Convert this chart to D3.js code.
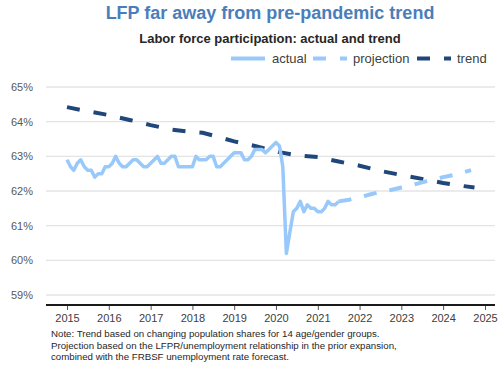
<!DOCTYPE html>
<html>
<head>
<meta charset="utf-8">
<script src="https://cdn.jsdelivr.net/npm/d3@7"></script>
<style>
  body { margin: 0; background: #fff; }
  svg { font-family: "Liberation Sans", Arial, sans-serif; }
</style>
</head>
<body>
<svg id="chart" width="500" height="365"></svg>
<script>
// monthly LFPR, Jan 2015 .. Jul 2021
var actualStart = "2015-01";
var actualValues = [
  62.9, 62.7, 62.6, 62.8, 62.9, 62.7, 62.6, 62.6, 62.4, 62.5, 62.5, 62.7,
  62.7, 62.8, 63.0, 62.8, 62.7, 62.7, 62.8, 62.9, 62.9, 62.8, 62.7, 62.7,
  62.8, 62.9, 63.0, 62.8, 62.8, 62.9, 63.0, 63.0, 62.7, 62.7, 62.7, 62.7,
  62.7, 63.0, 62.9, 62.9, 62.9, 63.0, 63.0, 62.7, 62.7, 62.8, 62.9, 63.0,
  63.1, 63.1, 63.1, 62.9, 62.9, 63.0, 63.2, 63.2, 63.2, 63.1, 63.2, 63.3,
  63.4, 63.3, 62.7, 60.2, 60.8, 61.4, 61.5, 61.7, 61.4, 61.6, 61.5, 61.5,
  61.4, 61.4, 61.5, 61.7, 61.6, 61.6, 61.7
];
var projDates = ["2021-07", "2021-10", "2022-01", "2022-04", "2022-07", "2022-10", "2023-01",
  "2023-04", "2023-07", "2023-10", "2024-01", "2024-04", "2024-07", "2024-09"];
var projValues = [61.7, 61.75, 61.82, 61.9, 61.97, 62.03, 62.1, 62.17, 62.25, 62.32, 62.4, 62.46, 62.54, 62.6];
var trendDates = ["2015-01", "2015-07", "2016-01", "2016-07", "2017-01", "2017-07", "2018-01", "2018-04",
  "2018-07", "2019-01", "2019-07", "2020-01", "2020-07", "2021-01", "2021-07", "2022-01", "2022-07",
  "2023-01", "2023-07", "2024-01", "2024-07", "2024-10"];
var trendValues = [64.42, 64.3, 64.19, 64.05, 63.9, 63.77, 63.7, 63.68, 63.6, 63.43, 63.3, 63.14, 63.03,
  62.98, 62.85, 62.73, 62.58, 62.46, 62.35, 62.23, 62.14, 62.1];
var yTicks = [59, 60, 61, 62, 63, 64, 65];
var xTicks = [2015, 2016, 2017, 2018, 2019, 2020, 2021, 2022, 2023, 2024, 2025];
var noteLines = [
  "Note: Trend based on changing population shares for 14 age/gender groups.",
  "Projection based on the LFPR/unemployment relationship in the prior expansion,",
  "combined with the FRBSF unemployment rate forecast."
];

var parseMonth = d3.timeParse("%Y-%m");
var lightBlue = "#99c9fb", navy = "#1f477a";

var svg = d3.select("#chart");
var plotLeft = 46, plotRight = 495, axisY = 305;

var x = d3.scaleTime()
  .domain([new Date(2015, 0, 1), new Date(2025, 0, 1)])
  .range([67, 485]);
var y = d3.scaleLinear().domain([59, 65]).range([295, 87]);

// titles
svg.append("text").attr("x", 270).attr("y", 19).attr("text-anchor", "middle")
  .attr("font-size", 18).attr("font-weight", "bold").attr("fill", "#4a7ebb")
  .text("LFP far away from pre-pandemic trend");
svg.append("text").attr("x", 270).attr("y", 43).attr("text-anchor", "middle")
  .attr("font-size", 13).attr("font-weight", "bold").attr("fill", "#262626")
  .text("Labor force participation: actual and trend");

// gridlines
svg.append("g").selectAll("line").data(yTicks).enter().append("line")
  .attr("x1", plotLeft).attr("x2", plotRight)
  .attr("y1", function (d) { return y(d); }).attr("y2", function (d) { return y(d); })
  .attr("stroke", "#e4e4e4").attr("stroke-width", 1.3);

// y labels
svg.append("g").selectAll("text").data(yTicks).enter().append("text")
  .attr("x", 33).attr("y", function (d) { return y(d) + 4; })
  .attr("text-anchor", "end").attr("font-size", 11).attr("fill", "#595959")
  .text(function (d) { return d + "%"; });

// x axis
var xAxis = svg.append("g").attr("transform", "translate(0," + axisY + ")")
  .call(d3.axisBottom(x)
    .tickValues(xTicks.map(function (t) { return new Date(t, 0, 1); }))
    .tickFormat(d3.timeFormat("%Y")).tickSizeOuter(0).tickSize(5));
xAxis.select(".domain").remove();
xAxis.selectAll(".tick line").attr("stroke", "#555").attr("stroke-width", 1);
xAxis.selectAll(".tick text").attr("font-size", 11).attr("fill", "#404040")
  .attr("font-family", "Liberation Sans, Arial, sans-serif").attr("dy", "0.8em");
svg.append("line").attr("x1", plotLeft).attr("x2", plotRight)
  .attr("y1", axisY).attr("y2", axisY).attr("stroke", "#1a1a1a").attr("stroke-width", 1.8);

// series
var actual = actualValues.map(function (v, i) {
  return { date: d3.timeMonth.offset(parseMonth(actualStart), i), value: v };
});
var proj = projDates.map(function (d, i) { return { date: parseMonth(d), value: projValues[i] }; });
var trend = trendDates.map(function (d, i) { return { date: parseMonth(d), value: trendValues[i] }; });

var line = d3.line()
  .x(function (d) { return x(d.date); })
  .y(function (d) { return y(d.value); });

svg.append("path").datum(trend).attr("d", line).attr("fill", "none")
  .attr("stroke", navy).attr("stroke-width", 4).attr("stroke-dasharray", "13,14");
svg.append("path").datum(proj).attr("d", line).attr("fill", "none")
  .attr("stroke", lightBlue).attr("stroke-width", 4).attr("stroke-dasharray", "13,13");
svg.append("path").datum(actual).attr("d", line).attr("fill", "none")
  .attr("stroke", lightBlue).attr("stroke-width", 3.5).attr("stroke-linejoin", "round");

// legend
var legend = [
  { label: "actual", color: lightBlue, dash: null, x: 231, tx: 272 },
  { label: "projection", color: lightBlue, dash: "13,14", x: 313, tx: 353 },
  { label: "trend", color: navy, dash: "13,14", x: 417, tx: 457 }
];
var lg = svg.append("g");
legend.forEach(function (l) {
  lg.append("line").attr("x1", l.x).attr("x2", l.x + 34).attr("y1", 58.5).attr("y2", 58.5)
    .attr("stroke", l.color).attr("stroke-width", 4).attr("stroke-dasharray", l.dash);
  lg.append("text").attr("x", l.tx).attr("y", 63).attr("font-size", 13).attr("fill", "#404040")
    .text(l.label);
});

// note
svg.append("g").selectAll("text").data(noteLines).enter().append("text")
  .attr("x", 51).attr("y", function (d, i) { return 337 + i * 11.5; })
  .attr("font-size", 9.7).attr("fill", "#262626")
  .text(function (d) { return d; });
</script>
</body>
</html>
